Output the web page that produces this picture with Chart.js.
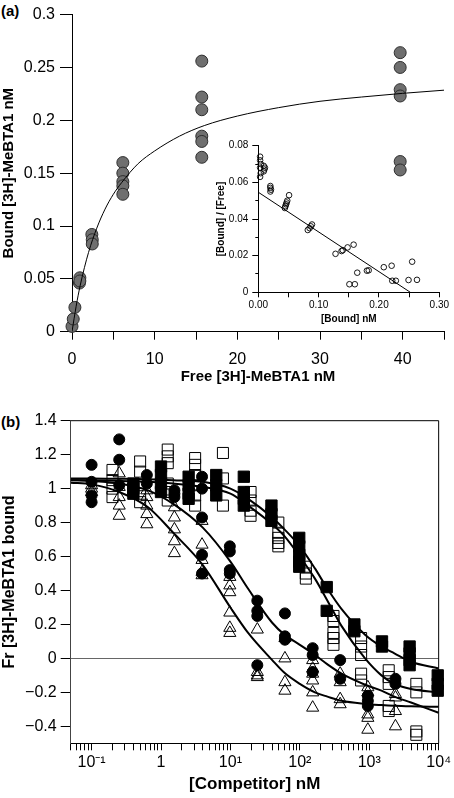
<!DOCTYPE html>
<html lang="en">
<head>
  <meta charset="UTF-8">
  <title>MeBTA1 binding</title>
  <script src="https://cdn.jsdelivr.net/npm/chart.js"></script>
  <style>
    body {
      margin: 0;
      width: 454px;
      height: 798px;
      position: relative;
      overflow: hidden;
      background: #fff;
      font-family: "Liberation Sans", Arial, sans-serif;
    }
    .box { position: absolute; }
    #boxA { left: 0; top: 0; width: 454px; height: 390px; }
    #boxInset { left: 200px; top: 125px; width: 254px; height: 205px; }
    #boxB { left: 0; top: 395px; width: 454px; height: 403px; }
    .tag { position: absolute; font-weight: bold; font-size: 15px; line-height: 15px; }
  </style>
</head>
<body>
  <div class="tag" style="left:1px;top:3px">(a)</div>
  <div class="tag" style="left:1px;top:414px">(b)</div>
  <div class="box" id="boxA"><canvas id="satChart"></canvas></div>
  <div class="box" id="boxInset"><canvas id="scatChart"></canvas></div>
  <div class="box" id="boxB"><canvas id="compChart"></canvas></div>

  <script>
    // (a) saturation binding, free vs bound (nM)
    const freeConc  = [0, 0.15, 0.35, 0.9, 0.95, 0.95, 2.4, 2.45, 2.45, 6.15, 6.15, 6.15, 6.15, 6.15,
                       15.7, 15.7, 15.7, 15.7, 15.7, 15.7, 39.7, 39.7, 39.7, 39.7, 39.7, 39.7];
    const boundConc = [0.005, 0.012, 0.023, 0.046, 0.051, 0.048, 0.092, 0.087, 0.083, 0.16, 0.15, 0.142, 0.138, 0.13,
                       0.256, 0.222, 0.21, 0.185, 0.18, 0.165, 0.264, 0.25, 0.229, 0.223, 0.161, 0.153];
    // fitted hyperbola
    const fitFree  = [0, 0.5, 1, 2, 3, 4, 5, 6, 8, 10, 13, 16, 20, 25, 30, 35, 40, 45];
    const fitBound = [0, 0.024, 0.044, 0.075, 0.098, 0.116, 0.130, 0.141, 0.159, 0.171, 0.185, 0.195, 0.204, 0.212, 0.218, 0.222, 0.2255, 0.2285];
    const satXTicks = [0, 5, 10, 15, 20, 25, 30, 35, 40, 45];
    const satYTicks = [0, 0.05, 0.1, 0.15, 0.2, 0.25, 0.3];
    const satYLabels = ['0', '0.05', '0.1', '0.15', '0.2', '0.25', '0.3'];

    // inset: Scatchard plot
    const scatBound = [0.003, 0.003, 0.004, 0.003, 0.004, 0.003, 0.009, 0.010, 0.009, 0.011,
                       0.020, 0.020, 0.021, 0.020,
                       0.044, 0.045, 0.046, 0.047, 0.048, 0.051,
                       0.082, 0.085, 0.087, 0.089,
                       0.128, 0.138, 0.140, 0.148, 0.158, 0.151, 0.160, 0.164, 0.180, 0.183,
                       0.208, 0.221, 0.222, 0.228, 0.249, 0.255, 0.263];
    const scatRatio = [0.074, 0.072, 0.070, 0.068, 0.065, 0.063, 0.069, 0.067, 0.066, 0.068,
                       0.058, 0.057, 0.056, 0.055,
                       0.046, 0.047, 0.048, 0.049, 0.050, 0.053,
                       0.034, 0.035, 0.036, 0.037,
                       0.021, 0.0225, 0.023, 0.0245, 0.026, 0.0044, 0.0044, 0.0107, 0.0118, 0.012,
                       0.0137, 0.0145, 0.0063, 0.0063, 0.0067, 0.0167, 0.0068];
    const scatFitX = [0, 0.252];
    const scatFitY = [0.0546, 0];
    const scatXTicks = [0, 0.05, 0.1, 0.15, 0.2, 0.25, 0.3];
    const scatXLabels = ['0.00', '', '0.10', '', '0.20', '', '0.30'];
    const scatYTicks = [0, 0.01, 0.02, 0.03, 0.04, 0.05, 0.06, 0.07, 0.08];
    const scatYLabels = ['0', '', '0.02', '', '0.04', '', '0.06', '', '0.08'];

    // (b) competition, replicate values per concentration
    const circConc = [0.1, 0.25, 0.625, 1.56, 3.9, 9.8, 24.4, 61, 153, 381, 954, 2384];
    const circVals = [
      [1.14, 1.04, 0.96, 0.92], [1.29, 1.17, 1.02], [1.08, 1.03], [0.99, 0.97, 0.95],
      [1.07, 1.0, 0.83, 0.61, 0.5], [0.66, 0.63, 0.52, 0.5], [0.34, 0.28, 0.25, -0.04],
      [0.265, 0.13, 0.11], [0.06, 0.02, -0.08], [-0.01, -0.12], [-0.22, -0.25, -0.28], [-0.12, -0.15]
    ];
    const triConc = [0.1, 0.25, 0.625, 1.56, 3.9, 9.8, 24.4, 61, 153, 381, 954, 2384];
    const triVals = [
      [1.02, 1.0, 0.98], [1.09, 1.01, 0.95, 0.9, 0.84], [0.99, 0.95, 0.9, 0.85, 0.79],
      [0.89, 0.83, 0.76, 0.69, 0.62], [0.81, 0.67, 0.58, 0.51, 0.49], [0.48, 0.43, 0.39, 0.27, 0.18, 0.15],
      [0.17, -0.08, -0.1, -0.11], [0.12, 0.0, -0.14, -0.19], [-0.01, -0.06, -0.09, -0.13, -0.2, -0.29],
      [-0.09, -0.14, -0.24, -0.27], [-0.17, -0.2, -0.33, -0.35, -0.42], [-0.21, -0.23, -0.31, -0.4]
    ];
    const osqConc = [0.2, 0.5, 1.25, 3.1, 7.8, 19.5, 49, 122, 305, 763, 1907, 4768];
    const osqVals = [
      [1.11, 1.05, 1.0, 0.95], [1.16, 1.1, 1.02, 0.97, 0.92], [1.23, 1.19, 1.15, 1.03, 0.98, 0.93],
      [1.18, 1.14, 1.08, 1.02, 0.96, 0.9], [1.21, 1.06, 0.9], [0.98, 0.93, 0.87, 0.84],
      [0.8, 0.74, 0.71, 0.68, 0.66], [0.54, 0.5, 0.47], [0.25, 0.22, 0.15, 0.12, 0.08],
      [0.12, 0.07, 0.02, -0.09, -0.13], [-0.07, -0.11, -0.15, -0.28, -0.31], [-0.15, -0.2, -0.43, -0.45]
    ];
    const fsqConc = [0.4, 1, 2.5, 6.25, 15.6, 39, 98, 244, 610, 1526, 3815, 9700];
    const fsqVals = [
      [1.03, 1.0, 0.97], [1.13, 1.08, 1.03, 0.98], [1.07, 1.02, 0.97, 0.94], [1.08, 1.02, 0.96],
      [1.07, 0.98, 0.94, 0.9], [0.9, 0.85, 0.81], [0.71, 0.66, 0.61, 0.57, 0.54], [0.42, 0.28],
      [0.2, 0.16], [0.1, 0.07], [0.07, 0.03, -0.01, -0.04], [-0.1, -0.15, -0.19]
    ];
    // fitted curves
    const curveConc = [0.05, 0.1, 0.25, 0.65, 1.5, 4, 10, 18, 40, 60, 100, 165, 250, 400, 870, 1500, 2300, 4000, 10000];
    const triCurve  = [1.035, 1.025, 0.98, 0.89, 0.74, 0.55, 0.30, 0.15, -0.01, -0.085, -0.15, -0.20, -0.225, -0.25, -0.268, -0.275, -0.279, -0.282, -0.285];
    const circCurve = [1.05, 1.045, 1.03, 0.99, 0.91, 0.77, 0.57, 0.41, 0.21, 0.14, 0.08, 0.02, -0.035, -0.09, -0.155, -0.19, -0.225, -0.26, -0.32];
    const osqCurve  = [1.05, 1.05, 1.045, 1.04, 1.03, 1.01, 0.97, 0.9, 0.79, 0.72, 0.6, 0.47, 0.34, 0.19, 0.0, -0.1, -0.15, -0.18, -0.2];
    const fsqCurve  = [1.06, 1.06, 1.058, 1.055, 1.05, 1.04, 1.0, 0.94, 0.83, 0.76, 0.66, 0.53, 0.41, 0.29, 0.14, 0.07, 0.03, -0.02, -0.06];
    const compYTicks  = [-0.4, -0.2, 0, 0.2, 0.4, 0.6, 0.8, 1, 1.2, 1.4];
    const compYLabels = ['\u22120.4', '\u22120.2', '0', '0.2', '0.4', '0.6', '0.8', '1', '1.2', '1.4'];
    const decadeTicks  = [0.1, 1, 10, 100, 1000, 10000];
    const decadeLabels = ['10\u207B\u00B9', '1', '10\u00B9', '10\u00B2', '10\u00B3', '10\u2074'];

    Chart.defaults.font.family = '"Liberation Sans", Arial, sans-serif';
    Chart.defaults.color = '#000';

    const xy = (xs, ys) => xs.map((x, i) => ({ x: x, y: ys[i] }));
    const reps = (conc, vals) => {
      const pts = [];
      conc.forEach((c, i) => vals[i].forEach(v => pts.push({ x: c, y: v })));
      return pts;
    };
    const fixW = w => s => { s.width = w; };
    const fixH = h => s => { s.height = h; };
    const setTicks = vals => s => { s.ticks = vals.map(v => ({ value: v })); };
    const labelOf = (vals, labels) => v => { const i = vals.indexOf(v); return i < 0 ? '' : labels[i]; };

    // log minor ticks for panel b
    const logTicks = [];
    for (let e = -2; e <= 3; e++) {
      for (let m = 1; m <= 9; m++) {
        const v = parseFloat((m * Math.pow(10, e)).toPrecision(3));
        if (v >= 0.05 && v <= 10000) logTicks.push(v);
      }
    }
    logTicks.push(10000);

    const noPlugins = { legend: { display: false }, tooltip: { enabled: false } };

    // (a)
    new Chart(document.getElementById('satChart'), {
      type: 'scatter',
      data: {
        datasets: [
          { data: xy(fitFree, fitBound), showLine: true, borderColor: '#000', borderWidth: 1,
            pointRadius: 0, cubicInterpolationMode: 'monotone', order: 0 },
          { data: xy(freeConc, boundConc), pointRadius: 6, backgroundColor: '#6f6f6f',
            borderColor: '#2e2e2e', borderWidth: 1, order: 1, clip: false }
        ]
      },
      options: {
        animation: false,
        responsive: true,
        maintainAspectRatio: false,
        layout: { padding: { left: 0, top: 13, right: 0.8, bottom: 0 } },
        plugins: noPlugins,
        scales: {
          x: {
            type: 'linear', min: 0, max: 45,
            afterFit: fixH(58.3),
            afterBuildTicks: setTicks(satXTicks),
            grid: { drawOnChartArea: false, tickLength: 8, tickColor: '#000' },
            border: { color: '#000' },
            ticks: { font: { size: 16 }, padding: 10, maxRotation: 0, autoSkip: false,
                     callback: v => (v % 10 === 0 ? String(v) : '') },
            title: { display: true, text: 'Free [3H]-MeBTA1 nM', font: { size: 15, weight: 'bold' },
                     padding: { top: 0, bottom: 4 } }
          },
          y: {
            min: 0, max: 0.3,
            afterFit: fixW(72),
            afterBuildTicks: setTicks(satYTicks),
            grid: { drawOnChartArea: false, tickLength: 12, tickColor: '#000' },
            border: { color: '#000' },
            ticks: { font: { size: 16 }, padding: 5, callback: labelOf(satYTicks, satYLabels) },
            title: { display: true, text: 'Bound [3H]-MeBTA1 nM', font: { size: 15, weight: 'bold' },
                     padding: { top: 0, bottom: 0 } }
          }
        }
      }
    });

    // inset
    new Chart(document.getElementById('scatChart'), {
      type: 'scatter',
      data: {
        datasets: [
          { data: xy(scatFitX, scatFitY), showLine: true, borderColor: '#000', borderWidth: 1,
            pointRadius: 0, order: 0 },
          { data: xy(scatBound, scatRatio), pointRadius: 2.8, backgroundColor: 'rgba(255,255,255,0)',
            borderColor: '#000', borderWidth: 0.9, order: 1, clip: false }
        ]
      },
      options: {
        animation: false,
        responsive: true,
        maintainAspectRatio: false,
        layout: { padding: { left: 0, top: 20.7, right: 14.7, bottom: 0 } },
        plugins: noPlugins,
        scales: {
          x: {
            min: 0, max: 0.3,
            afterFit: fixH(37.7),
            afterBuildTicks: setTicks(scatXTicks),
            grid: { drawOnChartArea: false, tickLength: 5, tickColor: '#000' },
            border: { color: '#000' },
            ticks: { font: { size: 10 }, padding: 2, maxRotation: 0, autoSkip: false,
                     callback: labelOf(scatXTicks, scatXLabels) },
            title: { display: true, text: '[Bound] nM', font: { size: 10, weight: 'bold' },
                     padding: { top: 0, bottom: 5 } }
          },
          y: {
            min: 0, max: 0.08,
            afterFit: fixW(58.3),
            afterBuildTicks: setTicks(scatYTicks),
            grid: { drawOnChartArea: false, tickLength: 6, tickColor: '#000',
                    tickBorderDash: c => (Math.round(c.tick.value * 100) % 2 ? [0, 3, 3, 20] : []) },
            border: { color: '#000' },
            ticks: { font: { size: 10 }, padding: 4, autoSkip: false, callback: labelOf(scatYTicks, scatYLabels) },
            title: { display: true, text: '[Bound] / [Free]', font: { size: 10, weight: 'bold' },
                     padding: { top: 15, bottom: 0 } }
          }
        }
      }
    });

    // (b) frame: top and right edges
    const frame = {
      id: 'frame',
      beforeDatasetsDraw(chart) {
        const { ctx, chartArea: a } = chart;
        ctx.save();
        ctx.strokeStyle = '#000';
        ctx.lineWidth = 1;
        ctx.beginPath();
        ctx.moveTo(a.left, a.top);
        ctx.lineTo(a.right, a.top);
        ctx.lineTo(a.right, a.bottom);
        ctx.stroke();
        ctx.restore();
      }
    };

    const curve = (ys, order) => ({
      data: xy(curveConc, ys), showLine: true, borderColor: '#000', borderWidth: 2,
      pointRadius: 0, cubicInterpolationMode: 'monotone', order: order
    });

    new Chart(document.getElementById('compChart'), {
      type: 'scatter',
      data: {
        datasets: [
          curve(triCurve, 0), curve(circCurve, 0), curve(osqCurve, 0), curve(fsqCurve, 0),
          { data: reps(triConc, triVals), pointStyle: 'triangle', pointRadius: 7,
            backgroundColor: 'rgba(255,255,255,0)', borderColor: '#000', borderWidth: 1, order: 1, clip: false },
          { data: reps(osqConc, osqVals), pointStyle: 'rect', pointRadius: 7.8,
            backgroundColor: 'rgba(255,255,255,0)', borderColor: '#000', borderWidth: 1, order: 2, clip: false },
          { data: reps(circConc, circVals), pointStyle: 'circle', pointRadius: 5.5,
            backgroundColor: '#000', borderColor: '#000', borderWidth: 1, order: 3, clip: false },
          { data: reps(fsqConc, fsqVals), pointStyle: 'rect', pointRadius: 8,
            backgroundColor: '#000', borderColor: '#000', borderWidth: 1, order: 4, clip: false }
        ]
      },
      options: {
        animation: false,
        responsive: true,
        maintainAspectRatio: false,
        layout: { padding: { left: 0, top: 25.7, right: 14, bottom: 0 } },
        plugins: noPlugins,
        scales: {
          x: {
            type: 'logarithmic', min: 0.05, max: 10000,
            afterFit: fixH(54.7),
            afterBuildTicks: setTicks(logTicks),
            grid: { drawOnChartArea: false, tickLength: 7, tickColor: '#000' },
            border: { color: '#000' },
            ticks: { font: { size: 16 }, padding: 3, maxRotation: 0, autoSkip: false,
                     callback: labelOf(decadeTicks, decadeLabels) },
            title: { display: true, text: '[Competitor] nM', font: { size: 17, weight: 'bold' },
                     padding: { top: 0, bottom: 3 } }
          },
          y: {
            min: -0.5, max: 1.4,
            afterFit: fixW(70.7),
            afterBuildTicks: setTicks(compYTicks),
            grid: { color: c => (c.tick && c.tick.value === 0 ? '#666' : 'rgba(0,0,0,0)'),
                    tickColor: '#000', tickLength: 10 },
            border: { color: '#444' },
            ticks: { font: { size: 16 }, padding: 4, autoSkip: false, callback: labelOf(compYTicks, compYLabels) },
            title: { display: true, text: 'Fr [3H]-MeBTA1 bound', font: { size: 16, weight: 'bold' },
                     padding: { top: 0, bottom: 0 } }
          }
        }
      },
      plugins: [frame]
    });
  </script>
</body>
</html>
